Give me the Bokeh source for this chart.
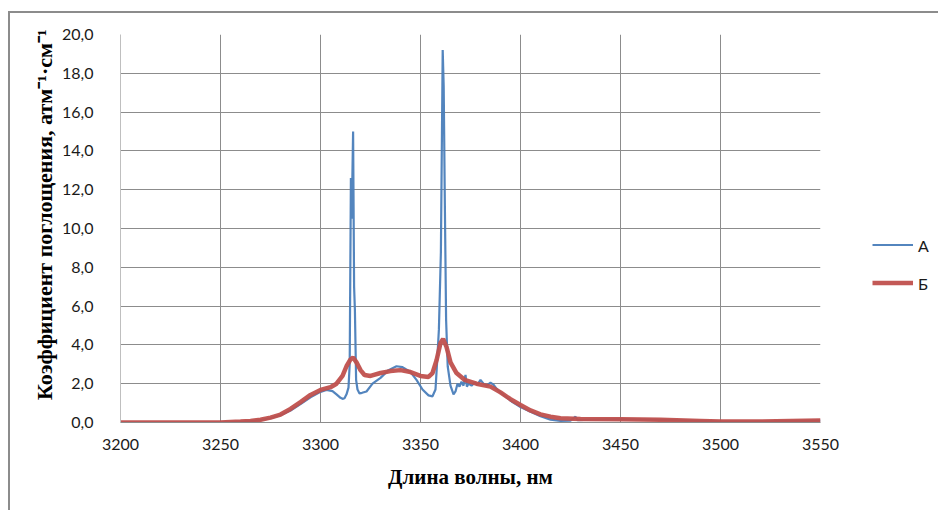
from bokeh.plotting import figure
from bokeh.models import (ColumnDataSource, Range1d, FixedTicker, CustomJSTickFormatter,
                          Legend, LegendItem)
from bokeh.embed import file_html
from bokeh.resources import INLINE

# ---- data ----
wl_a = [3200, 3220, 3240, 3250, 3255, 3260, 3265, 3270, 3275, 3280, 3285, 3290, 3295,
        3300, 3303, 3306, 3308, 3310, 3311, 3312, 3313, 3314, 3314.6, 3315.2, 3315.6,
        3316.3, 3316.8, 3317.2, 3317.8, 3318.5, 3319.5, 3320.8, 3323, 3326, 3330,
        3334, 3338, 3341, 3345, 3348, 3351, 3354, 3356, 3357.5, 3358.3, 3359.2,
        3360.2, 3361.1, 3361.6, 3362.1, 3362.8, 3363.6, 3365, 3366.5, 3367.5, 3368.5,
        3369.5, 3370.5, 3371.5, 3372.5, 3373.2, 3374, 3375.5, 3377, 3378.5, 3380,
        3381.5, 3383, 3385, 3386.5, 3388, 3390, 3393, 3396, 3400, 3405, 3410, 3415,
        3420, 3425, 3427.5, 3428.5, 3435, 3450, 3470, 3490, 3500, 3515, 3530, 3550]
abs_a = [0.0, 0.0, 0.0, 0.01, 0.02, 0.04, 0.07, 0.12, 0.22, 0.38, 0.62, 0.95, 1.3,
         1.58, 1.68, 1.62, 1.45, 1.27, 1.22, 1.25, 1.45, 1.8, 3.0, 12.6, 10.5,
         15.0, 7.0, 5.8, 2.2, 1.7, 1.5, 1.53, 1.6, 2.0, 2.3,
         2.7, 2.9, 2.85, 2.6, 2.2, 1.7, 1.4, 1.35, 1.7, 3.1, 4.8,
         8.8, 19.2, 17.3, 12.0, 5.3, 2.9, 1.9, 1.45, 1.6, 2.0,
         1.85, 2.1, 1.9, 2.45, 1.85, 2.0, 1.9, 2.05, 1.95, 2.2,
         2.0, 1.9, 2.05, 1.95, 1.75, 1.55, 1.3, 1.05, 0.8, 0.55, 0.32, 0.15,
         0.08, 0.1, 0.3, 0.12, 0.15, 0.17, 0.14, 0.08, 0.05, 0.04, 0.07, 0.1]

wl_b = [3200, 3250, 3260, 3265, 3270, 3275, 3280, 3285, 3290, 3295, 3300, 3305, 3308,
        3311, 3313, 3315, 3316.3, 3318, 3320, 3322, 3325, 3330, 3335, 3340, 3345,
        3350, 3354, 3356, 3358, 3360, 3361.3, 3363, 3365, 3368, 3372, 3378, 3385,
        3390, 3395, 3400, 3405, 3410, 3415, 3420, 3430, 3450, 3470, 3490, 3500,
        3520, 3535, 3550]
abs_b = [0.0, 0.0, 0.05, 0.08, 0.14, 0.25, 0.41, 0.7, 1.05, 1.42, 1.68, 1.82, 2.0,
         2.4, 2.9, 3.25, 3.35, 3.1, 2.7, 2.45, 2.4, 2.55, 2.65, 2.7, 2.6,
         2.4, 2.35, 2.55, 3.2, 4.1, 4.31, 3.9, 3.1, 2.55, 2.2, 2.0, 1.85,
         1.55, 1.2, 0.9, 0.62, 0.42, 0.3, 0.22, 0.18, 0.17, 0.14, 0.08, 0.05,
         0.05, 0.08, 0.1]

x_ticks = [3200, 3250, 3300, 3350, 3400, 3450, 3500, 3550]
y_ticks = [0, 2, 4, 6, 8, 10, 12, 14, 16, 18, 20]
series_names = ["А", "Б"]
x_title = "Длина волны, нм"
y_title = "Коэффициент поглощения, атм⁻¹·см⁻¹"

GRID = "#8c8c8c"
TICK_FONT = "Lato"

p = figure(frame_width=700, frame_height=388, output_backend="svg", toolbar_location=None,
           x_range=Range1d(3200, 3550), y_range=Range1d(0, 20),
           min_border_left=110, min_border_right=119, min_border_top=21,
           min_border_bottom=88,
           styles={"border-top": "2px solid #8c8c8c", "border-left": "2px solid #8c8c8c",
                   "margin-top": "11px", "margin-left": "8px"})
p.outline_line_color = None
p.background_fill_color = "white"
p.border_fill_color = "white"

src_a = ColumnDataSource(dict(x=wl_a, y=abs_a))
src_b = ColumnDataSource(dict(x=wl_b, y=abs_b))
ra = p.line("x", "y", source=src_a, line_color="#4a7ebb", line_width=2.2, line_alpha=0.95)
rb = p.line("x", "y", source=src_b, line_color="#c0504d", line_width=4.5, line_alpha=0.95)

p.xaxis.ticker = FixedTicker(ticks=x_ticks)
p.yaxis.ticker = FixedTicker(ticks=y_ticks)
p.yaxis.formatter = CustomJSTickFormatter(code="return tick.toFixed(1).replace('.', ',');")

for ax in (p.xaxis, p.yaxis):
    ax.major_tick_line_color = None
    ax.minor_tick_line_color = None
    ax.major_label_text_font = TICK_FONT
    ax.major_label_text_font_size = "16px"
    ax.major_label_text_color = "#1a1a1a"
    ax.axis_label_text_font = "Liberation Serif"
    ax.axis_label_text_font_style = "bold"
    ax.axis_label_text_color = "black"

p.xaxis.axis_label_text_font_size = "21px"
p.yaxis.axis_label_text_font_size = "22px"
p.xaxis.axis_line_color = GRID
p.yaxis.axis_line_color = "#bfbfbf"
p.xaxis.major_label_standoff = 10
p.yaxis.major_label_standoff = 21
p.xaxis.axis_label = x_title
p.yaxis.axis_label = "\u00a0" * 5 + y_title
p.xaxis.axis_label_standoff = 12
p.yaxis.axis_label_standoff = 2

p.xgrid.grid_line_color = GRID
p.ygrid.grid_line_color = GRID
p.xgrid.grid_line_width = 1
p.ygrid.grid_line_width = 1

legend = Legend(items=[LegendItem(label=series_names[0], renderers=[ra]),
                       LegendItem(label=series_names[1], renderers=[rb])],
                location="center_left", padding=0, margin=52, spacing=18,
                glyph_width=41, glyph_height=20, label_height=20, label_width=10,
                label_standoff=5,
                title="\u00a0", title_text_font_size="1px", title_standoff=70,
                border_line_color=None, background_fill_alpha=0,
                label_text_font=TICK_FONT, label_text_font_size="16px",
                label_text_color="#1a1a1a")
p.add_layout(legend, "right")

open("out.html", "w").write(file_html(p, INLINE))
